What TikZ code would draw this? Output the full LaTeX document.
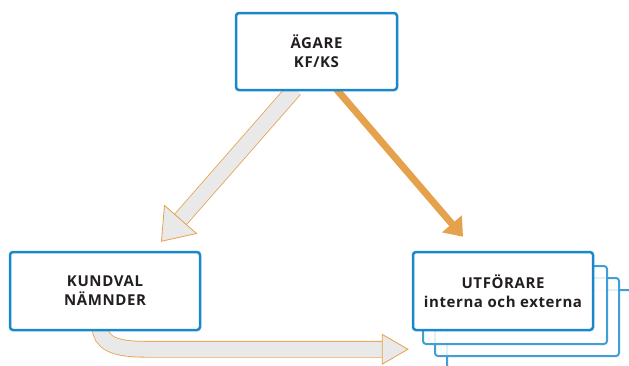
\documentclass[tikz,border=0pt]{standalone}
\usepackage{fontspec}
\setmainfont{Open Sans}[LetterSpace=4]
\usetikzlibrary{arrows.meta, calc, backgrounds}
\definecolor{boxblue}{RGB}{27,135,203}
\definecolor{stackblue}{RGB}{66,158,214}
\definecolor{arroworange}{RGB}{229,161,75}
\definecolor{arrowgrey}{RGB}{233,233,233}
\definecolor{textdark}{RGB}{35,31,32}

\begin{document}
\begin{tikzpicture}[
    x=1pt, y=-1pt,
    unit/.style={rectangle, rounded corners=3pt, draw=boxblue, line width=2.5pt, fill=white,
                 minimum height=78pt, align=center, inner sep=0pt, text=textdark,
                 font=\fontsize{15}{19}\selectfont\bfseries},
    stack/.style={rectangle, rounded corners=3pt, draw=stackblue, line width=2pt, fill=white,
                  fill opacity=0.85, minimum width=184pt, minimum height=78pt},
    greyarrow/.style={draw=arroworange, line width=0.8pt, double=arrowgrey, double distance=15pt},
    orangearrow/.style={draw=arroworange, line width=7pt,
                  -{Triangle[width=25pt, length=17pt]}}
]
    \useasboundingbox (0,0) rectangle (629,365);

    \node[unit, minimum width=161pt, minimum height=77pt] (agare) at (316.5,51.5) {ÄGARE\\KF/KS};
    \node[unit, minimum width=190pt] (kundval) at (105,291) {KUNDVAL\\NÄMNDER};
    \node[unit, minimum width=180pt] (utforare) at (503,291) {UTFÖRARE\\interna och externa};

    \begin{scope}[on background layer]
        \foreach \i in {3,2,1}
            \node[stack] (stack\i) at ($(utforare)+(12*\i,12*\i+2)$) {};
        \draw[greyarrow, -{Triangle[width=44pt, length=30pt, fill=arrowgrey, color=arroworange, line width=0.8pt]}]
            ($(agare.south)+(-22,-2)$) -- ($(kundval.north)+(56,-9)$);
        \draw[greyarrow, -{Triangle[width=31pt, length=27pt, fill=arrowgrey, color=arroworange, line width=0.8pt]}]
            ($(kundval.south)+(-5,-5)$) .. controls ($(kundval.south)+(-5,12)$) and ($(kundval.south)+(10,18)$)
            .. ($(kundval.south)+(40,18)$) -- ($(utforare.south west)+(-3,18)$);
        \draw[orangearrow] ($(agare.south)+(20,-2)$) -- ($(utforare.north)+(-40,-14)$);
    \end{scope}
\end{tikzpicture}
\end{document}
